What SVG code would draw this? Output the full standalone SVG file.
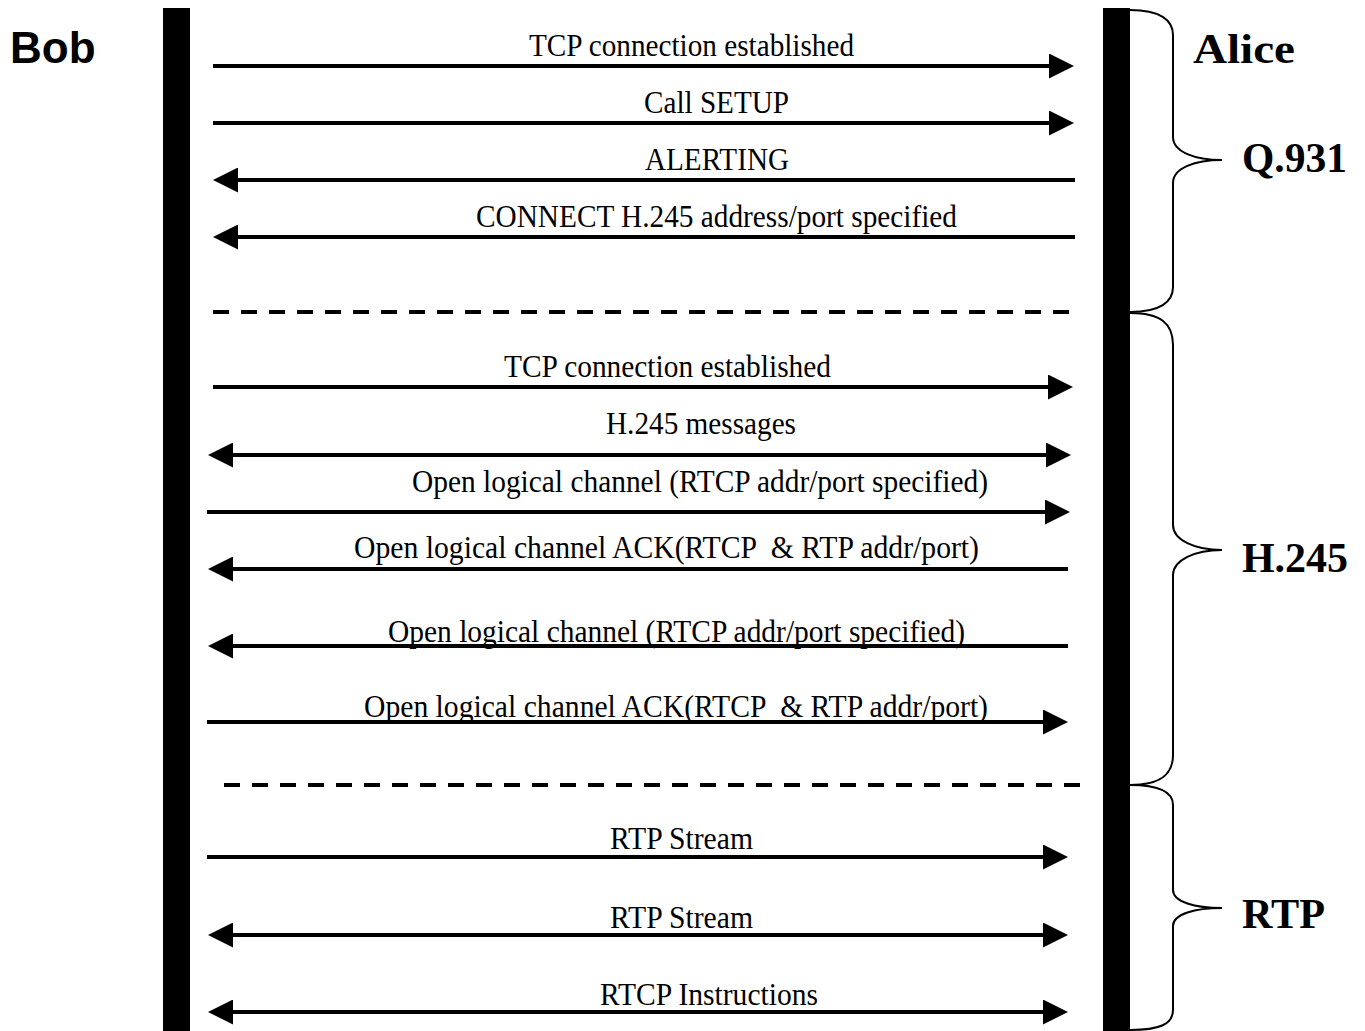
<svg xmlns="http://www.w3.org/2000/svg" width="1365" height="1031" viewBox="0 0 1365 1031">
<style>
.lbl{font-family:"Liberation Serif","Times New Roman",serif;font-size:31px;fill:#000}
.big{font-family:"Liberation Serif","Times New Roman",serif;font-size:43px;font-weight:bold;fill:#000}
.msg{stroke:#000;stroke-width:4;fill:none}
.dash{stroke:#000;stroke-width:4;stroke-dasharray:16 12;fill:none}
.brace{stroke:#000;stroke-width:2;fill:none}
.bar{fill:#000}
</style>
<defs>
<marker id="ah" markerUnits="userSpaceOnUse" markerWidth="25" markerHeight="25" viewBox="0 0 25 25" refX="15" refY="12.5" orient="auto-start-reverse">
<path d="M0,0 L25,12.5 L0,25 z" fill="#000"/>
</marker>
</defs>
<rect width="1365" height="1031" fill="#fff"/>

<g id="bob">
<rect class="bar" x="163" y="8" width="27" height="1023"/>
<text x="10" y="63" font-family="Liberation Sans, Arial, sans-serif" font-size="44" font-weight="bold">Bob</text>
</g>
<g id="alice">
<rect class="bar" x="1103" y="8" width="27" height="1023"/>
<text class="big" x="1193" y="63" font-size="47" textLength="102" lengthAdjust="spacingAndGlyphs">Alice</text>
</g>

<g id="q931">
<path class="brace" d="M1130,10 C1160,10 1173,20 1173,35 L1173,137 C1173,152 1195,160 1222,160 C1195,160 1173,168 1173,183 L1173,287 C1173,302 1160,312 1130,312"/>
<text class="big" x="1242" y="172" textLength="105" lengthAdjust="spacingAndGlyphs">Q.931</text>
</g>
<g id="h245">
<path class="brace" d="M1130,313 C1160,313 1173,323 1173,345 L1173,525 C1173,540 1195,550 1222,550 C1195,550 1173,560 1173,575 L1173,755 C1173,775 1160,785 1130,785"/>
<text class="big" x="1242" y="572" textLength="106" lengthAdjust="spacingAndGlyphs">H.245</text>
</g>
<g id="rtp">
<path class="brace" d="M1130,785 C1160,785 1173,792 1173,805 L1173,890 C1173,902 1195,908 1222,908 C1195,908 1173,914 1173,926 L1173,1010 C1173,1024 1160,1030 1130,1030"/>
<text class="big" x="1242" y="928" textLength="83" lengthAdjust="spacingAndGlyphs">RTP</text>
</g>

<g id="connectors">
<line class="msg" x1="213" y1="66" x2="1064" y2="66" marker-end="url(#ah)"/>
<line class="msg" x1="213" y1="123" x2="1064" y2="123" marker-end="url(#ah)"/>
<line class="msg" x1="1075" y1="180" x2="223" y2="180" marker-end="url(#ah)"/>
<line class="msg" x1="1075" y1="237" x2="223" y2="237" marker-end="url(#ah)"/>
<line class="dash" x1="213" y1="312" x2="1072" y2="312"/>
<line class="msg" x1="213" y1="387" x2="1063" y2="387" marker-end="url(#ah)"/>
<line class="msg" x1="218" y1="455" x2="1061" y2="455" marker-start="url(#ah)" marker-end="url(#ah)"/>
<line class="msg" x1="207" y1="512" x2="1060" y2="512" marker-end="url(#ah)"/>
<line class="msg" x1="1068" y1="569" x2="218" y2="569" marker-end="url(#ah)"/>
<line class="msg" x1="1068" y1="646" x2="218" y2="646" marker-end="url(#ah)"/>
<line class="msg" x1="207" y1="722" x2="1058" y2="722" marker-end="url(#ah)"/>
<line class="dash" x1="224" y1="785" x2="1082" y2="785"/>
<line class="msg" x1="207" y1="857" x2="1058" y2="857" marker-end="url(#ah)"/>
<line class="msg" x1="218" y1="935" x2="1058" y2="935" marker-start="url(#ah)" marker-end="url(#ah)"/>
<line class="msg" x1="218" y1="1012" x2="1058" y2="1012" marker-start="url(#ah)" marker-end="url(#ah)"/>
</g>

<g id="labels">
<text class="lbl" x="529" y="56" textLength="325" lengthAdjust="spacingAndGlyphs">TCP connection established</text>
<text class="lbl" x="644" y="113" textLength="145" lengthAdjust="spacingAndGlyphs">Call SETUP</text>
<text class="lbl" x="645" y="170" textLength="144" lengthAdjust="spacingAndGlyphs">ALERTING</text>
<text class="lbl" x="476" y="227" textLength="481" lengthAdjust="spacingAndGlyphs">CONNECT H.245 address/port specified</text>
<text class="lbl" x="504" y="377" textLength="327" lengthAdjust="spacingAndGlyphs">TCP connection established</text>
<text class="lbl" x="606" y="434" textLength="190" lengthAdjust="spacingAndGlyphs">H.245 messages</text>
<text class="lbl" x="412" y="492" textLength="576" lengthAdjust="spacingAndGlyphs">Open logical channel (RTCP addr/port specified)</text>
<text class="lbl" x="354" y="558" textLength="625" lengthAdjust="spacingAndGlyphs" xml:space="preserve">Open logical channel ACK(RTCP  &amp; RTP addr/port)</text>
<text class="lbl" x="388" y="642" textLength="577" lengthAdjust="spacingAndGlyphs">Open logical channel (RTCP addr/port specified)</text>
<text class="lbl" x="364" y="717" textLength="624" lengthAdjust="spacingAndGlyphs" xml:space="preserve">Open logical channel ACK(RTCP  &amp; RTP addr/port)</text>
<text class="lbl" x="610" y="849" textLength="143" lengthAdjust="spacingAndGlyphs">RTP Stream</text>
<text class="lbl" x="610" y="928" textLength="143" lengthAdjust="spacingAndGlyphs">RTP Stream</text>
<text class="lbl" x="600" y="1005" textLength="218" lengthAdjust="spacingAndGlyphs">RTCP Instructions</text>
</g>
</svg>
